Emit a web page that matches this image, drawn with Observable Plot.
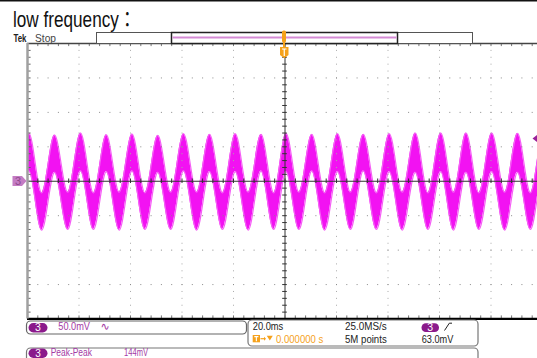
<!DOCTYPE html>
<html><head><meta charset="utf-8">
<script src="https://cdn.jsdelivr.net/npm/d3@7"></script>
<script src="https://cdn.jsdelivr.net/npm/@observablehq/plot@0.6"></script>
<style>
html,body{margin:0;padding:0;background:#fff;overflow:hidden;width:537px;height:358px;}
#wrap{position:relative;width:537px;height:358px;overflow:hidden;}
#chart{position:absolute;left:0;top:0;width:542px;}
#chart svg{max-width:none !important;display:block;}
#deco{position:absolute;left:0;top:0;}
</style></head><body>
<div id="wrap"><div id="chart"></div><svg id="deco" width="537" height="358" xmlns="http://www.w3.org/2000/svg"></svg></div>
<script>
// Time (ms) of successive troughs / peaks of the trace (even index = trough, odd = peak)
const extremaTime = [-104.5,-99.5,-94.5,-89.5,-84.4,-79.4,-74.4,-69.4,-64.4,-59.4,
  -54.4,-49.4,-44.4,-39.4,-34.3,-29.3,-24.3,-19.3,-14.3,-9.3,
  -4.4,0.4,5.4,10.4,15.4,20.4,25.4,30.4,35.5,40.5,
  45.5,50.6,55.5,60.5,65.4,70.3,75.3,80.3,85.3,90.3,
  95.3,100.3,105.3];
// Upper edge of the noisy trace (mV) at those times
const upperEdge = [-16,70,-17,67,-16,70,-17,67.5,-16,68.5,
  -17,66.5,-16,69,-16,68,-17,69,-16,68,
  -17,69.5,-16,68,-17,69,-16,68,-17,69,
  -16,70,-17,70,-16,70,-17,70,-16,69.5,
  -17,69,-16];
// Lower edge of the noisy trace (mV) at those times
const lowerEdge = [-70,15,-71,13,-70,15,-70,14,-71,15,
  -70,13,-70,15,-71,14,-70,14,-71,15,
  -70,14,-70,15,-71,14,-70,15,-70,14,
  -71,13,-70,14,-71,13,-70,14,-71,13,
  -70,14,-70];

// Graticule: 20 ms/div horizontally, 50 mV/div vertically
const xDivisions = [-100,-80,-60,-40,-20,0,20,40,60,80,100];
const yDivisions = [-200,-150,-100,-50,0,50,100,150,200];

const wave = extremaTime.map((t, i) => ({t, hi: upperEdge[i], lo: lowerEdge[i]}));
const xMinor = d3.range(-100, 100.01, 4);
const yMinor = d3.range(-200, 200.01, 10);
const xGrid = xDivisions.filter(d => d !== 0 && Math.abs(d) !== 100);
const yGrid = yDivisions.filter(d => d !== 0 && Math.abs(d) !== 200);

const trace = "#f212f2";
const chart = Plot.plot({
  width: 542, height: 320,
  marginLeft: 27, marginRight: 0, marginTop: 43, marginBottom: 1.5,
  x: {domain: [-100, 100], axis: null},
  y: {domain: [-200, 200], axis: null},
  marks: [
    Plot.areaY(wave, {x: "t", y1: "lo", y2: "hi", curve: "monotone-x", fill: trace, clip: true}),
    Plot.lineY(wave, {x: "t", y: "hi", curve: "monotone-x", stroke: "#f560f5", strokeWidth: 1.2, clip: true}),
    Plot.lineY(wave, {x: "t", y: "lo", curve: "monotone-x", stroke: "#f560f5", strokeWidth: 1.2, clip: true}),
    Plot.ruleX(xGrid, {stroke: "#a8a8a8", strokeWidth: 1, strokeDasharray: "1 5.888"}),
    Plot.ruleY(yGrid, {stroke: "#8a8a8a", strokeWidth: 1, strokeDasharray: "1 9.3"}),
    Plot.ruleX([0], {stroke: "#333", strokeWidth: 1}),
    Plot.ruleY([0], {stroke: "#333", strokeWidth: 1}),
    Plot.ruleX(xMinor, {y1: -3.3, y2: 3.3, stroke: "#333"}),
    Plot.ruleY(yMinor, {x1: -0.9, x2: 0.9, stroke: "#333"}),
    Plot.ruleX(xMinor, {y1: 200, y2: 195.5, stroke: "#777"}),
    Plot.ruleX(xMinor, {y1: -200, y2: -195.5, stroke: "#777"}),
    Plot.ruleY(yMinor, {x1: -100, x2: -98.6, stroke: "#666"}),
    Plot.ruleY([200], {stroke: "#444", strokeWidth: 1.5}),
    Plot.ruleY([-200], {stroke: "#000", strokeWidth: 2.5}),
    Plot.ruleX([-100], {stroke: "#a0a0a0", strokeWidth: 2.5})
  ]
});
document.getElementById("chart").append(chart);

const F = 'font-family="Liberation Sans, Arial, sans-serif"';
const purple = "#a43aa4", badge = "#8b1a8b", orange = "#f5a11b";
document.getElementById("deco").innerHTML = `
<rect x="0" y="0" width="537" height="1.5" fill="#111"/>
<text transform="translate(13,26.5) scale(0.78,1)" font-family="Liberation Sans, Noto Sans CJK TC, sans-serif" font-size="22" fill="#111">low frequency：</text>
<text x="13.5" y="41.8" ${F} font-size="11.5" font-weight="bold" fill="#222" textLength="13" lengthAdjust="spacingAndGlyphs">Tek</text>
<text x="35" y="41.8" ${F} font-size="10.5" fill="#444" textLength="21" lengthAdjust="spacingAndGlyphs">Stop</text>
<rect x="96.5" y="32.5" width="376" height="11" fill="#fff" stroke="#555" stroke-width="1"/>
<rect x="171.5" y="32.5" width="226" height="11" fill="#fff" stroke="#222" stroke-width="1.5"/>
<line x1="172.5" x2="396.5" y1="37.6" y2="37.6" stroke="#d58bd5" stroke-width="2"/>
<rect x="282" y="30.5" width="4" height="12" rx="1.5" fill="${orange}"/>
<rect x="283" y="42" width="2" height="5" fill="${orange}"/>
<path d="M280,47 h8.5 v8 l-4.25,3.2 l-4.25,-3.2 z" fill="${orange}"/>
<path d="M282,49 h4.5 M284.25,49 v7" stroke="#fff" stroke-width="1.2"/>
<path d="M12.5,176 h9.5 l4.5,5 l-4.5,5 h-9.5 z" fill="#c47cc4"/>
<text x="18" y="185" ${F} font-size="11" fill="#8c4a8c" text-anchor="middle">3</text>
<path d="M537,135 L532.5,138.5 L537,142 z" fill="#9a1f9a"/>
<rect x="26.5" y="321" width="220" height="13" rx="4" fill="none" stroke="#666" stroke-width="1.2"/>
<rect x="248" y="320" width="230" height="26" rx="4" fill="none" stroke="#777" stroke-width="1.2"/>
<rect x="26.5" y="348" width="451.5" height="20" rx="4" fill="none" stroke="#777" stroke-width="1.2"/>
<rect x="28.5" y="323" width="19" height="9.5" rx="4.75" fill="${badge}"/>
<text x="38" y="331.2" ${F} font-size="10.5" fill="#fff" text-anchor="middle">3</text>
<text x="58.3" y="330.3" ${F} font-size="11.5" fill="${purple}" textLength="31.7" lengthAdjust="spacingAndGlyphs">50.0mV</text>
<text x="100.5" y="330.3" font-family="DejaVu Sans" font-size="11" fill="${purple}">∿</text>
<text x="252.7" y="330.2" ${F} font-size="11" fill="#222" textLength="30.6" lengthAdjust="spacingAndGlyphs">20.0ms</text>
<text x="345" y="330.2" ${F} font-size="11" fill="#222" textLength="41.7" lengthAdjust="spacingAndGlyphs">25.0MS/s</text>
<rect x="421.5" y="323.3" width="17.5" height="8.7" rx="4.3" fill="${badge}"/>
<text x="430.2" y="331.2" ${F} font-size="10.5" fill="#fff" text-anchor="middle">3</text>
<path d="M444.5,330.5 L449.3,323.2 L452,323.2" fill="none" stroke="#222" stroke-width="1"/>
<rect x="252.7" y="335" width="7.3" height="7.3" fill="${orange}"/>
<path d="M254.3,336.6 h4.1 M256.35,336.6 v4.6" stroke="#fff" stroke-width="1.1"/>
<path d="M260.5,338.7 h4.5" stroke="${orange}" stroke-width="1.2"/>
<path d="M264,336.7 l2,2 l-2,2 z" fill="${orange}"/>
<path d="M266.8,335.8 h6 l-3,4.6 z" fill="${orange}"/>
<text x="276" y="343" ${F} font-size="11" fill="${orange}" textLength="47.3" lengthAdjust="spacingAndGlyphs">0.000000 s</text>
<text x="345" y="343" ${F} font-size="11" fill="#222" textLength="41.7" lengthAdjust="spacingAndGlyphs">5M points</text>
<text x="421.7" y="343" ${F} font-size="11" fill="#222" textLength="31.6" lengthAdjust="spacingAndGlyphs">63.0mV</text>
<rect x="28.5" y="348.5" width="19" height="9.5" rx="4.75" fill="${badge}"/>
<text x="38" y="356.6" ${F} font-size="10" fill="#fff" text-anchor="middle">3</text>
<text x="50.7" y="355.8" ${F} font-size="10.5" fill="${purple}" textLength="41.3" lengthAdjust="spacingAndGlyphs">Peak-Peak</text>
<text x="124" y="355.8" ${F} font-size="10.5" fill="${purple}" textLength="24" lengthAdjust="spacingAndGlyphs">144mV</text>
`;
</script>
</body></html>
